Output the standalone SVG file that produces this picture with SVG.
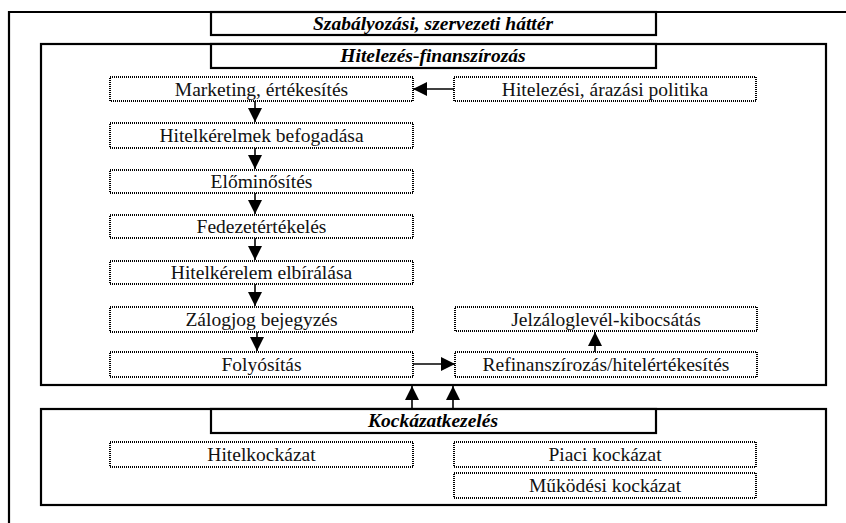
<svg xmlns="http://www.w3.org/2000/svg" width="846" height="523" viewBox="0 0 846 523">
<style>
.frame{fill:none;stroke:#000;stroke-width:2.2}
.lbl{fill:#fff;stroke:#000;stroke-width:2.2}
.box{fill:#fff;stroke:#000;stroke-width:2;stroke-dasharray:1 1}
text{font-family:'Liberation Serif','Times New Roman','DejaVu Serif',serif;font-size:19.5px;text-anchor:middle}
.t{fill:#111}
.h{font-weight:bold;font-style:italic;fill:#000}
.c{stroke:#000;stroke-width:1.6;fill:none;marker-end:url(#ah)}
</style>
<defs>
<marker id="ah" markerUnits="userSpaceOnUse" markerWidth="16" markerHeight="16" refX="14" refY="7" orient="auto">
<path d="M0,0 L14,7 L0,14 Z" fill="#000"/>
</marker>
</defs>
<rect width="846" height="523" fill="#fff"/>
<g id="outer">
<path class="frame" d="M9,523 V12 H846"/>
<rect class="lbl" x="211" y="12" width="445" height="23"/>
<text class="h" x="433" y="30" font-family="Liberation Serif, serif">Szabályozási, szervezeti háttér</text>
</g>
<g id="hitelezes">
<rect class="frame" x="41" y="44" width="785" height="341"/>
<rect class="lbl" x="211" y="44" width="445" height="24"/>
<text class="h" x="433" y="62" font-family="Liberation Serif, serif">Hitelezés-finanszírozás</text>
</g>
<g id="marketing"><rect class="box" x="110" y="77" width="303" height="24"/><text class="t" x="261.5" y="96" font-family="Liberation Serif, serif">Marketing, értékesítés</text></g>
<g id="politika"><rect class="box" x="454" y="77" width="302" height="24"/><text class="t" x="605" y="96" font-family="Liberation Serif, serif">Hitelezési, árazási politika</text></g>
<g id="befogadas"><rect class="box" x="110" y="123" width="303" height="25"/><text class="t" x="261.5" y="142" font-family="Liberation Serif, serif">Hitelkérelmek befogadása</text></g>
<g id="elominosites"><rect class="box" x="110" y="170" width="303" height="23"/><text class="t" x="261.5" y="188" font-family="Liberation Serif, serif">Előminősítés</text></g>
<g id="fedezet"><rect class="box" x="110" y="215" width="303" height="23"/><text class="t" x="261.5" y="233" font-family="Liberation Serif, serif">Fedezetértékelés</text></g>
<g id="elbiralas"><rect class="box" x="110" y="261" width="303" height="23"/><text class="t" x="261.5" y="279" font-family="Liberation Serif, serif">Hitelkérelem elbírálása</text></g>
<g id="zalogjog"><rect class="box" x="110" y="307" width="303" height="25"/><text class="t" x="261.5" y="326" font-family="Liberation Serif, serif">Zálogjog bejegyzés</text></g>
<g id="folyositas"><rect class="box" x="110" y="352" width="303" height="25"/><text class="t" x="261.5" y="371" font-family="Liberation Serif, serif">Folyósítás</text></g>
<g id="jelzalog"><rect class="box" x="455" y="307" width="302" height="24"/><text class="t" x="606" y="326" font-family="Liberation Serif, serif">Jelzáloglevél-kibocsátás</text></g>
<g id="refinansz"><rect class="box" x="455" y="352" width="302" height="25"/><text class="t" x="606" y="371" font-family="Liberation Serif, serif">Refinanszírozás/hitelértékesítés</text></g>
<g id="kockazat">
<rect class="frame" x="41" y="409" width="785" height="96"/>
<rect class="lbl" x="211" y="409" width="445" height="24"/>
<text class="h" x="433" y="427" font-family="Liberation Serif, serif">Kockázatkezelés</text>
</g>
<g id="hitelkockazat"><rect class="box" x="110" y="442" width="303" height="25"/><text class="t" x="261.5" y="461" font-family="Liberation Serif, serif">Hitelkockázat</text></g>
<g id="piaci"><rect class="box" x="454" y="442" width="302" height="25"/><text class="t" x="605" y="461" font-family="Liberation Serif, serif">Piaci kockázat</text></g>
<g id="mukodesi"><rect class="box" x="454" y="473" width="302" height="25"/><text class="t" x="605" y="492" font-family="Liberation Serif, serif">Működési kockázat</text></g>
<g id="connectors">
<path class="c" d="M454,89 H413"/>
<path class="c" d="M255,101 V122"/>
<path class="c" d="M255,148 V169"/>
<path class="c" d="M255,193 V214"/>
<path class="c" d="M255,238 V260"/>
<path class="c" d="M255,284 V306"/>
<path class="c" d="M257,332 V351"/>
<path class="c" d="M413,364 H455"/>
<path class="c" d="M595,352 V332"/>
<path class="c" d="M412,409 V386"/>
<path class="c" d="M453,409 V386"/>
</g>
</svg>
